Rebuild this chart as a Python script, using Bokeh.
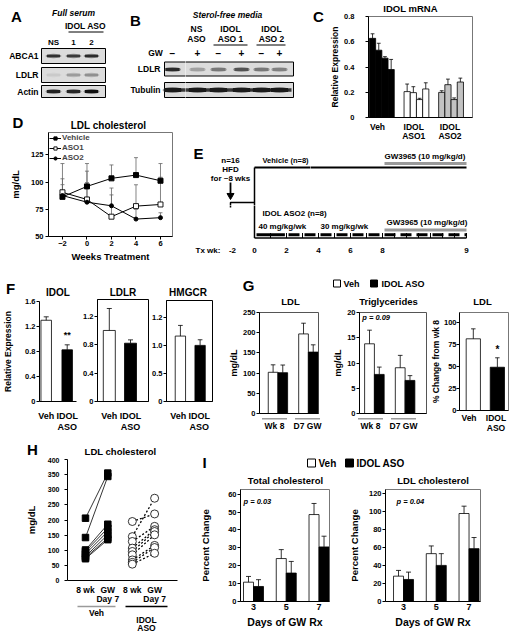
from bokeh.plotting import figure
from bokeh.models import Range1d, FixedTicker, Legend, LegendItem
from bokeh.layouts import row, column
from bokeh.core.properties import value
from bokeh.embed import file_html
from bokeh.resources import INLINE

FONT = "Liberation Sans"

# ====================== DATA ======================
# Panel A (western blot band intensities, 0..1)
a_lanes = ["NS", "1", "2"]
a_abca1 = [0.85, 0.80, 0.88]
a_ldlr = [0.10, 0.32, 0.38]
a_actin = [0.92, 0.90, 1.00]
# Panel B
b_groups = [["NS", "ASO"], ["IDOL", "ASO 1"], ["IDOL", "ASO 2"]]
b_gw = ["\u2212", "+", "\u2212", "+", "\u2212", "+"]
b_ldlr = [0.88, 0.30, 0.50, 0.68, 0.50, 0.46]
b_tubulin = [0.95, 0.95, 0.95, 0.95, 0.95, 0.95]
# Panel C (IDOL mRNA)
c_cats = ["Veh", "IDOL\nASO1", "IDOL\nASO2"]
c_veh = [0.627, 0.533, 0.470, 0.380]
c_veh_err = [0.036, 0.055, 0.012, 0.080]
c_aso1 = [0.205, 0.197, 0.142, 0.226]
c_aso1_err = [0.060, 0.047, 0.010, 0.049]
c_aso2 = [0.199, 0.260, 0.142, 0.281]
c_aso2_err = [0.013, 0.044, 0.013, 0.031]
# Panel D (LDL cholesterol time course)
d_weeks = [-2, 0, 2, 4, 6]
d_vehicle = [86.4, 96.0, 103.4, 106.4, 101.2]
d_vehicle_err = [30.6, 21.0, 12.3, 16.0, 15.8]
d_aso1 = [90.6, 84.0, 68.2, 77.9, 79.4]
d_aso1_err = [12.4, 26.0, 26.3, 19.6, 25.0]
d_aso2 = [87.6, 81.5, 78.2, 66.0, 67.3]
d_aso2_err = [10.0, 18.0, 10.0, 9.0, 4.5]
# Panel E (timeline)
e_tick_labels = ["-2", "0", "2", "4", "6", "8", "9"]
e_tick_pos = [-1.375, 0, 2, 4, 6, 8, 13.25]
e_week_marks = [0, 1, 2, 3, 4, 5, 6, 7, 8]
e_day_marks = [8.75, 9.5, 10.25, 11.0, 11.75, 12.5, 13.25]
# Panel F
f_cats = ["Veh", "IDOL\nASO"]
f_idol = [1.30, 0.827]
f_idol_err = [0.055, 0.080]
f_ldlr = [1.003, 0.823]
f_ldlr_err = [0.31, 0.047]
f_hmgcr = [1.166, 1.00]
f_hmgcr_err = [0.19, 0.10]
# Panel G
g_groups = ["Wk 8", "D7 GW"]
g_ldl_veh = [102, 197]
g_ldl_veh_err = [18.5, 26.5]
g_ldl_aso = [101, 152]
g_ldl_aso_err = [19, 18]
g_tg_veh = [13.8, 9.06]
g_tg_veh_err = [2.7, 2.45]
g_tg_aso = [7.74, 6.55]
g_tg_aso_err = [1.45, 0.95]
g_pct_cats = ["Veh", "IDOL\nASO"]
g_pct = [81.2, 49.0]
g_pct_err = [11.3, 10.7]
# Panel H
h_cats = ["8 wk", "GW\nDay 7", "8 wk", "GW\nDay 7"]
h_pos = [0, 1, 2.1, 3.1]
h_veh_wk8 = [206, 142, 101, 96, 88, 80, 76, 72]
h_veh_gw = [355, 344, 186, 173, 162, 151, 140, 135]
h_aso_wk8 = [195, 145, 129, 107, 96, 85, 68, 60, 54]
h_aso_gw = [220, 272, 179, 168, 162, 151, 116, 109, 90]
# Panel I
i_days = ["3", "5", "7"]
i_tc_veh = [10.8, 24.0, 48.6]
i_tc_veh_err = [3.2, 5.0, 6.2]
i_tc_aso = [8.4, 15.9, 30.5]
i_tc_aso_err = [3.8, 6.5, 6.0]
i_ldl_veh = [28.3, 53.4, 98.2]
i_ldl_veh_err = [6.4, 8.6, 8.2]
i_ldl_aso = [24.6, 40.3, 59.0]
i_ldl_aso_err = [8.2, 13.1, 12.4]


# ====================== HELPERS ======================
class Geo:
    def __init__(self, fx, fy, w, h, bl=0, br=0, bt=0, bb=0):
        self.fx, self.fy, self.w, self.h = fx, fy, w, h
        self.bl, self.br, self.bt, self.bb = bl, br, bt, bb
        self.fl = fx + bl
        self.fb = fy + h - bb
        self.fw = w - bl - br
        self.fh = h - bt - bb


def mk(g, xr, yr, axes=True):
    p = figure(width=g.w, height=g.h, x_range=Range1d(*xr), y_range=Range1d(*yr),
               output_backend="svg", toolbar_location=None, tools="", title=None,
               min_border_left=g.bl, min_border_right=g.br,
               min_border_top=g.bt, min_border_bottom=g.bb,
               x_axis_location="below" if axes else None,
               y_axis_location="left" if axes else None)
    try:
        p.frame_align = False
    except Exception:
        pass
    p.xgrid.visible = False
    p.ygrid.visible = False
    p.background_fill_color = "white"
    p.border_fill_color = "white"
    p.outline_line_color = None
    return p


def strip(g, data_xr=None):
    """Text/decoration strip: frame fills the figure, x/y in page pixels."""
    p = mk(g, (g.fx, g.fx + g.w), (g.fy + g.h, g.fy), axes=False)
    if data_xr is not None:
        p.extra_x_ranges = {"d": Range1d(*data_xr)}
    return p


def ext(g, xr):
    ppu = g.fw / (xr[1] - xr[0])
    return (xr[0] - g.bl / ppu, xr[1] + g.br / ppu)


def to_dx(g, xr, X):
    return xr[0] + (X - g.fl) * (xr[1] - xr[0]) / g.fw


def to_dy(g, yr, Y):
    return yr[0] + (g.fb - Y) * (yr[1] - yr[0]) / g.fh


def style_ax(ax, size=7.5, tick_out=3, standoff=2, ticks=True):
    ax.axis_line_color = "black"
    ax.axis_line_width = 1
    ax.minor_tick_line_color = None
    if ticks:
        ax.major_tick_line_color = "black"
        ax.major_tick_out = tick_out
        ax.major_tick_in = 0
    else:
        ax.major_tick_line_color = None
        ax.major_tick_out = 0
        ax.major_tick_in = 0
    ax.major_label_text_font = FONT
    ax.major_label_text_font_size = f"{size}px"
    ax.major_label_text_font_style = "bold"
    ax.major_label_text_color = "black"
    ax.major_label_standoff = standoff
    ax.axis_label_text_font = FONT
    ax.axis_label_text_font_style = "bold"
    ax.axis_label_text_color = "black"


def bare_x(ax):
    style_ax(ax, 7, 0, 0, ticks=False)
    ax.ticker = FixedTicker(ticks=[])


def txt(p, xs, ys, texts, size, style="bold", align="center", baseline="middle",
        xr_name=None, bounds=None):
    if bounds is not None:
        x0, x1, y0, y1 = bounds
        keep = [i for i in range(len(xs)) if x0 <= xs[i] < x1 and y0 <= ys[i] < y1]
        if not keep:
            return
        xs = [xs[i] for i in keep]
        ys = [ys[i] for i in keep]
        texts = [texts[i] for i in keep]
    kw = {} if xr_name is None else {"x_range_name": xr_name}
    p.text(x=xs, y=ys, text=texts, text_font=value(FONT), text_font_size=value(f"{size}px"),
           text_font_style=value(style), text_align=value(align),
           text_baseline=value(baseline), text_color="black", **kw)


def cat_text(p, xs, labels, y0, size, dy):
    for x, lb in zip(xs, labels):
        for k, line in enumerate(lb.split("\n")):
            txt(p, [x], [y0 + k * dy], [line], size, xr_name="d")


def bars(p, xs, tops, errs, width, fill, cap):
    p.vbar(x=xs, top=tops, bottom=0, width=width, fill_color=fill,
           line_color="black", line_width=0.8)
    ups = [t + e for t, e in zip(tops, errs)]
    p.segment(x0=xs, y0=tops, x1=xs, y1=ups, line_color="black", line_width=0.8)
    p.segment(x0=[x - cap for x in xs], y0=ups, x1=[x + cap for x in xs], y1=ups,
              line_color="black", line_width=0.8)


def gray(v):
    c = int(round(222 - 205 * v))
    return "#%02x%02x%02x" % (c, c, c)


def blot_box(p, x0, x1, y0, y1):
    p.quad(left=[x0], right=[x1], top=[y0], bottom=[y1], fill_color="#dcdcdc",
           line_color="black", line_width=1)


def bands(p, xs, y, inten, w, h):
    cols = [gray(v) for v in inten]
    n = len(xs)
    p.ellipse(x=xs, y=[y] * n, width=w + 3, height=h + 2, fill_color=cols,
              fill_alpha=0.45, line_color=None)
    p.rect(x=xs, y=[y] * n, width=w, height=h, fill_color=cols, line_color=None)


def sq(p, x0, x1, y0, y1, fill):
    p.quad(left=[x0], right=[x1], top=[y0], bottom=[y1], fill_color=fill,
           line_color="black", line_width=1)


# ====================== A + B (blots) + D heading ======================
def draw_AB(p, b):
    # --- A
    txt(p, [16], [16], ["A"], 15, bounds=b)
    txt(p, [73], [12.5], ["Full serum"], 8.5, style="bold italic", bounds=b)
    txt(p, [85], [25.5], ["IDOL ASO"], 8.5, bounds=b)
    p.line([68, 103], [31.5, 31.5], line_color="black", line_width=1)
    a_x = [53, 73, 91]
    txt(p, a_x, [41.5] * 3, a_lanes, 8, bounds=b)
    blot_box(p, 41, 105, 48, 63)
    blot_box(p, 41, 105, 67, 82)
    blot_box(p, 41, 105, 85, 97)
    txt(p, [38, 38, 38], [55.5, 74.5, 91], ["ABCA1", "LDLR", "Actin"], 8.5, align="right",
        bounds=b)
    bands(p, a_x, 55.5, a_abca1, 13, 2.5)
    bands(p, a_x, 74.5, a_ldlr, 13, 2.5)
    bands(p, a_x, 91, a_actin, 13, 3)
    # --- B
    txt(p, [135], [20], ["B"], 15, bounds=b)
    txt(p, [227], [14], ["Sterol-free media"], 8.5, style="bold italic", bounds=b)
    b_hx = [196, 230, 271]
    txt(p, b_hx, [28.3] * 3, [g[0] for g in b_groups], 8.5, bounds=b)
    txt(p, b_hx, [38.5] * 3, [g[1] for g in b_groups], 8.5, bounds=b)
    p.line([213, 247], [44.5, 44.5], line_color="black", line_width=1)
    p.line([256, 285], [44.5, 44.5], line_color="black", line_width=1)
    b_x = [172, 197, 218, 241, 261, 279]
    txt(p, b_x, [52.5] * 6, b_gw, 10, bounds=b)
    txt(p, [155], [52.5], ["GW"], 8.5, bounds=b)
    blot_box(p, 164, 293, 61.5, 75.5)
    blot_box(p, 164, 293, 82, 97)
    txt(p, [160, 160], [68.5, 89.5], ["LDLR", "Tubulin"], 8.5, align="right", bounds=b)
    bands(p, b_x, 69, b_ldlr, 14, 3)
    p.rect(x=[228.5], y=[89.5], width=125, height=3.5, fill_color=gray(0.8), line_color=None)
    bands(p, b_x, 89.5, b_tubulin, 17, 4)
    # --- D heading
    txt(p, [108], [124.5], ["LDL cholesterol"], 10, bounds=b)
    txt(p, [17.5], [122], ["D"], 15, bounds=b)


pABl = strip(Geo(0, 0, 185, 131))
draw_AB(pABl, (0, 185, 0, 131))
pABr = strip(Geo(185, 0, 125, 131))
draw_AB(pABr, (185, 310, 0, 131))

# ====================== C ======================
xrC = (-0.386, 2.62)
gCc = Geo(327, 13, 183, 109, 36, 38, 3, 5)
pCc = mk(gCc, xrC, (0, 0.8))
ppuC = gCc.fw / (xrC[1] - xrC[0])
C_BW = 6.5 / ppuC
for gi, (vals, errs, col) in enumerate([(c_veh, c_veh_err, "black"),
                                        (c_aso1, c_aso1_err, "white"),
                                        (c_aso2, c_aso2_err, "#c2c2c2")]):
    xs = [gi + (i - 1.5) * C_BW for i in range(len(vals))]
    bars(pCc, xs, vals, errs, C_BW, col, 2.0 / ppuC)
pCc.outline_line_color = "#777777"
ya = pCc.yaxis[0]
style_ax(ya, 7.5, 3, 11)
ya.ticker = FixedTicker(ticks=[0, 0.2, 0.4, 0.6, 0.8])
ya.major_label_overrides = {0: "0"}
ya.axis_label = "Relative Expression"
ya.axis_label_text_font_size = "8.5px"
ya.axis_label_standoff = 1
bare_x(pCc.xaxis[0])

pCl = strip(Geo(310, 0, 17, 141))
txt(pCl, [318], [16], ["C"], 15)
pCt = strip(Geo(327, 0, 183, 13))
txt(pCt, [410], [7.5], ["IDOL mRNA"], 9.5)
pCb = strip(Geo(327, 122, 183, 19), ext(gCc, xrC))
cat_text(pCb, [0, 1, 2], c_cats, 126, 8.5, 9.5)

# ====================== D ======================
gD = Geo(0, 131, 185, 133, 48, 13, 1, 27)
xrD = (-3.14, 6.98)
pD = mk(gD, xrD, (50, 145.5))
ppuD = gD.fw / (xrD[1] - xrD[0])
capD = 2.0 / ppuD
for vals, errs in [(d_vehicle, d_vehicle_err), (d_aso1, d_aso1_err), (d_aso2, d_aso2_err)]:
    ups = [v + e for v, e in zip(vals, errs)]
    pD.segment(x0=d_weeks, y0=vals, x1=d_weeks, y1=ups, line_color="#666666", line_width=0.8)
    pD.segment(x0=[w - capD for w in d_weeks], y0=ups, x1=[w + capD for w in d_weeks], y1=ups,
               line_color="#666666", line_width=0.8)
l1 = pD.line(d_weeks, d_vehicle, line_color="black", line_width=1)
l2 = pD.line(d_weeks, d_aso1, line_color="black", line_width=1)
l3 = pD.line(d_weeks, d_aso2, line_color="black", line_width=1)
s1 = pD.scatter(d_weeks, d_vehicle, marker="square", size=5, fill_color="black", line_color="black")
s2 = pD.scatter(d_weeks, d_aso1, marker="square", size=5, fill_color="white", line_color="black",
                line_width=0.9)
s3 = pD.scatter(d_weeks, d_aso2, marker="circle", size=4, fill_color="black", line_color="black")
legD = Legend(items=[LegendItem(label="Vehicle", renderers=[l1, s1]),
                     LegendItem(label="ASO1", renderers=[l2, s2]),
                     LegendItem(label="ASO2", renderers=[l3, s3])],
              location="top_left", label_text_font=FONT, label_text_font_size="8px",
              label_text_font_style="bold", glyph_width=12, glyph_height=8, label_height=8,
              label_standoff=1, spacing=1, padding=0, margin=1, border_line_color=None,
              background_fill_alpha=0)
pD.add_layout(legD)
pD.outline_line_color = "#777777"
xa = pD.xaxis[0]
style_ax(xa, 7.5, 3, 1)
xa.ticker = FixedTicker(ticks=d_weeks)
xa.axis_label = "Weeks Treatment"
xa.axis_label_text_font_size = "9.5px"
xa.axis_label_standoff = 2
ya = pD.yaxis[0]
style_ax(ya, 7.5, 3, 2)
ya.ticker = FixedTicker(ticks=[50, 75, 100, 125])
ya.axis_label = "mg/dL"
ya.axis_label_text_font_size = "9.5px"
ya.axis_label_standoff = 7


# ====================== E (timeline, drawn over three canvases) ======================
def ux(X):
    return (X - 254.0) / 16.0


def draw_E(p, b):
    last = e_tick_pos[-1]
    txt(p, [-3.5], [153], ["E"], 15, bounds=b)
    txt(p, [-1.5] * 3, [160, 169, 178], ["n=16", "HFD", "for ~8 wks"], 8, bounds=b)
    p.segment(x0=[-1.5], y0=[182], x1=[-1.5], y1=[193], line_color="black", line_width=1.8)
    p.scatter(x=[-1.5], y=[195], marker="inverted_triangle", size=7, fill_color="black",
              line_color="black")
    p.line([-1.5, -1.5, 0], [207, 202, 202], line_color="black", line_width=1.5)
    p.line([0, 0], [167, 237.5], line_color="black", line_width=1.5)
    p.line([0, last], [167, 167], line_color="black", line_width=2)
    p.line([8.125, last], [163, 163], line_color="#9a9a9a", line_width=3)
    p.line([8.125, last], [229.5, 229.5], line_color="#9a9a9a", line_width=3)
    p.line([0.125, 1.9], [234.3, 234.3], line_color="black", line_width=3)
    p.line([2.125, last], [234.3, 234.3], line_color="black", line_width=3, line_dash="11 5")
    p.line([0, last], [237.5, 237.5], line_color="black", line_width=1.5)
    marks = e_week_marks + e_day_marks
    p.segment(x0=marks, y0=[237.5] * len(marks), x1=marks, y1=[232.5] * len(marks),
              line_color="black", line_width=1)
    txt(p, e_tick_pos, [250] * len(e_tick_pos), e_tick_labels, 8, bounds=b)
    txt(p, [ux(195)], [250], ["Tx wk:"], 8, align="left", bounds=b)
    txt(p, [0.5], [160], ["Vehicle (n=8)"], 7.5, align="left", bounds=b)
    txt(p, [8.125], [156], ["GW3965 (10 mg/kg/d)"], 8, align="left", bounds=b)
    txt(p, [0.5], [213], ["IDOL ASO2 (n=8)"], 8, align="left", bounds=b)
    txt(p, [0.25, 4.125], [226, 226], ["40 mg/kg/wk", "30 mg/kg/wk"], 8, align="left",
        bounds=b)
    txt(p, [8.25], [222], ["GW3965 (10 mg/kg/d)"], 8, align="left", bounds=b)


pEul = mk(Geo(185, 131, 125, 74), (ux(185), ux(310)), (205, 131), axes=False)
draw_E(pEul, (ux(185), ux(310), 131, 205))
pEur = mk(Geo(310, 141, 200, 64), (ux(310), ux(510)), (205, 141), axes=False)
draw_E(pEur, (ux(310), ux(510), 141, 205))
pEb = mk(Geo(185, 205, 325, 59), (ux(185), ux(510)), (264, 205), axes=False)
draw_E(pEb, (ux(185), ux(510), 205, 264))


# ====================== F ======================
def fpanel(gt, gc, gb, xr, yr, vals, errs, bw_px, yticks, yover, title, outline):
    p = mk(gc, xr, yr)
    ppu = gc.fw / (xr[1] - xr[0])
    bars(p, [0, 1], vals, errs, bw_px / ppu, ["white", "black"], 2.5 / ppu)
    p.outline_line_color = outline
    ya = p.yaxis[0]
    style_ax(ya, 7.5, 3, 1)
    ya.ticker = FixedTicker(ticks=yticks)
    ya.major_label_overrides = yover
    bare_x(p.xaxis[0])
    pt = strip(gt, ext(gc, xr))
    txt(pt, [(xr[0] + xr[1]) / 2], [291.5], [title], 10, xr_name="d")
    pb = strip(gb, ext(gc, xr))
    cat_text(pb, [0, 1], f_cats, 415.5, 9, 10.5)
    return pt, p, pb


xrF1, yrF1 = (-0.32, 1.443), (0, 1.6)
gF1c = Geo(0, 298, 80, 107, 39, 4, 3, 4)
pF1t, pF1, pF1b = fpanel(Geo(0, 264, 80, 34), gF1c, Geo(0, 405, 80, 27), xrF1, yrF1,
                         f_idol, f_idol_err, 10.5, [0, 0.4, 0.8, 1.2, 1.6], {0: "0"}, "IDOL", None)
pF1.yaxis[0].axis_label = "Relative Expression"
pF1.yaxis[0].axis_label_text_font_size = "8.5px"
pF1.yaxis[0].axis_label_standoff = 9
txt(pF1, [1], [to_dy(gF1c, yrF1, 334)], ["**"], 9)
txt(pF1t, [10], [287.5], ["F"], 15)

pF2t, pF2, pF2b = fpanel(Geo(80, 264, 69, 35), Geo(80, 299, 69, 106, 17, 1, 0, 4),
                         Geo(80, 405, 69, 27), (-0.557, 1.849), (0, 1.44),
                         f_ldlr, f_ldlr_err, 12, [0, 0.4, 0.8, 1.2], {0: "0"}, "LDLR", "black")

pF3t, pF3, pF3b = fpanel(Geo(149, 264, 76, 36), Geo(149, 300, 76, 105, 14, 13, 0, 4),
                         Geo(149, 405, 76, 27), (-0.705, 1.629), (0, 1.8),
                         f_hmgcr, f_hmgcr_err, 11, [0, 0.5, 1.0, 1.5],
                         {0: "0", 0.5: "0.5", 1: "1.0", 1.5: "1.2"}, "HMGCR", "black")


# ====================== G ======================
def gpanel(gt, gc, gb, xr, yr, veh, veh_err, aso, aso_err, yticks, title, tx):
    p = mk(gc, xr, yr)
    ppu = gc.fw / (xr[1] - xr[0])
    bw = 10.5 / ppu
    bars(p, [i - bw / 2 for i in range(len(veh))], veh, veh_err, bw, "white", 2.5 / ppu)
    bars(p, [i + bw / 2 for i in range(len(aso))], aso, aso_err, bw, "black", 2.5 / ppu)
    p.outline_line_color = "#555555"
    ya = p.yaxis[0]
    style_ax(ya, 7.5, 3, 1)
    ya.ticker = FixedTicker(ticks=yticks)
    ya.axis_label = "mg/dL"
    ya.axis_label_text_font_size = "9px"
    ya.axis_label_standoff = 1
    bare_x(p.xaxis[0])
    pt = strip(gt, ext(gc, xr))
    txt(pt, [tx], [300.8], [title], 9.5)
    pb = strip(gb, ext(gc, xr))
    for i in range(len(veh)):
        pb.line([i - 12.5 / ppu, i + 12.5 / ppu], [418.3, 418.3], line_color="#9a9a9a",
                line_width=1.5, x_range_name="d")
    cat_text(pb, list(range(len(g_groups))), g_groups, 425.8, 8.5, 10)
    return pt, p, pb


gG1c = Geo(225, 307, 105, 110, 29, 12, 5, 4)
pG1t, pG1, pG1b = gpanel(Geo(225, 264, 105, 43), gG1c, Geo(225, 417, 105, 15),
                         (-0.606, 1.333), (0, 250), g_ldl_veh, g_ldl_veh_err,
                         g_ldl_aso, g_ldl_aso_err, [0, 50, 100, 150, 200, 250], "LDL", 290)
txt(pG1t, [248], [285], ["G"], 15)

xrG2, yrG2 = (-0.485, 1.697), (0, 20)
gG2c = Geo(330, 307, 97, 110, 24, 1, 5, 4)
pG2t, pG2, pG2b = gpanel(Geo(330, 264, 97, 43), gG2c, Geo(330, 417, 97, 15),
                         xrG2, yrG2, g_tg_veh, g_tg_veh_err, g_tg_aso, g_tg_aso_err,
                         [0, 5, 10, 15, 20], "Triglycerides", 388)
txt(pG2, [to_dx(gG2c, xrG2, 357)], [to_dy(gG2c, yrG2, 317.3)], ["p = 0.09"], 7.5,
    style="bold italic", align="left")
sq(pG2t, 333, 340, 279.5, 286.5, "white")
txt(pG2t, [343], [283], ["Veh"], 9, align="left")
sq(pG2t, 370, 377, 279.5, 286.5, "black")
txt(pG2t, [381], [283], ["IDOL ASO"], 9, align="left")

xrG3, yrG3 = (-0.574, 1.463), (0, 111)
gG3c = Geo(427, 307, 83, 107, 26, 2, 5, 4)
pG3 = mk(gG3c, xrG3, yrG3)
ppuG3 = gG3c.fw / (xrG3[1] - xrG3[0])
bars(pG3, [0, 1], g_pct, g_pct_err, 16 / ppuG3, ["white", "black"], 2.5 / ppuG3)
pG3.outline_line_color = "#777777"
ya = pG3.yaxis[0]
style_ax(ya, 7.5, 3, 0)
ya.ticker = FixedTicker(ticks=[0, 25, 50, 75, 100])
ya.axis_label = "% Change from wk 8"
ya.axis_label_text_font_size = "8.5px"
ya.axis_label_standoff = 0
bare_x(pG3.xaxis[0])
txt(pG3, [1], [to_dy(gG3c, yrG3, 349)], ["*"], 10)
pG3t = strip(Geo(427, 264, 83, 43))
txt(pG3t, [482], [300.8], ["LDL"], 9.5)
pG3b = strip(Geo(427, 414, 83, 18), ext(gG3c, xrG3))
cat_text(pG3b, [0, 1], g_pct_cats, 417.8, 8.5, 9.2)

# ====================== H ======================
xrH, yrH = (-0.807, 4.126), (0, 400)
gHc = Geo(0, 457, 195, 127, 67, 18, 2, 4)
pH = mk(gHc, xrH, yrH)
nv = len(h_veh_wk8)
na = len(h_aso_wk8)
pH.segment(x0=[h_pos[0]] * nv, y0=h_veh_wk8, x1=[h_pos[1]] * nv, y1=h_veh_gw,
           line_color="black", line_width=0.8)
pH.segment(x0=[h_pos[2]] * na, y0=h_aso_wk8, x1=[h_pos[3]] * na, y1=h_aso_gw,
           line_color="black", line_width=1.3, line_dash="2 2")
pH.scatter(x=[h_pos[0]] * nv + [h_pos[1]] * nv, y=h_veh_wk8 + h_veh_gw, marker="square",
           size=6.5, fill_color="black", line_color="black")
pH.scatter(x=[h_pos[2]] * na + [h_pos[3]] * na, y=h_aso_wk8 + h_aso_gw, marker="circle",
           size=8, fill_color="white", line_color="black", line_width=0.8)
ya = pH.yaxis[0]
style_ax(ya, 7, 3, 5)
ya.ticker = FixedTicker(ticks=[0, 50, 100, 150, 200, 250, 300, 350, 400])
ya.axis_label = "mg/dL"
ya.axis_label_text_font_size = "9.5px"
ya.axis_label_standoff = 8
bare_x(pH.xaxis[0])
pHt = strip(Geo(0, 432, 195, 25))
txt(pHt, [120], [451], ["LDL cholesterol"], 9.5)
txt(pHt, [32], [448.5], ["H"], 15)
pHb = strip(Geo(0, 584, 195, 48), ext(gHc, xrH))
cat_text(pHb, h_pos, h_cats, 589, 8.5, 9)
pHb.line([77, 115], [606, 606], line_color="#9a9a9a", line_width=1.5)
pHb.line([125, 167], [606, 606], line_color="black", line_width=1.5)
txt(pHb, [96], [612.5], ["Veh"], 8.5)
txt(pHb, [146, 146], [619, 627], ["IDOL", "ASO"], 8.5)


# ====================== I ======================
def ipanel(gc, xr, yr, veh, veh_err, aso, aso_err, yticks, ptxt, px, als):
    p = mk(gc, xr, yr)
    ppu = gc.fw / (xr[1] - xr[0])
    bw = 10.0 / ppu
    bars(p, [i - bw / 2 for i in range(len(veh))], veh, veh_err, bw, "white", 2.5 / ppu)
    bars(p, [i + bw / 2 for i in range(len(aso))], aso, aso_err, bw, "black", 2.5 / ppu)
    p.outline_line_color = "#777777"
    ya = p.yaxis[0]
    style_ax(ya, 7.5, 3, 1)
    ya.ticker = FixedTicker(ticks=yticks)
    ya.axis_label = "Percent Change"
    ya.axis_label_text_font_size = "9.5px"
    ya.axis_label_standoff = als
    xa = p.xaxis[0]
    style_ax(xa, 9, 0, 2, ticks=False)
    xa.ticker = FixedTicker(ticks=[0, 1, 2])
    xa.major_label_overrides = {i: d for i, d in enumerate(i_days)}
    xa.axis_label = "Days of GW Rx"
    xa.axis_label_text_font_size = "10.5px"
    xa.axis_label_standoff = 3
    txt(p, [to_dx(gc, xr, px)], [to_dy(gc, yr, 500.7)], [ptxt], 7.5, style="bold italic",
        align="left")
    return p


gI1c = Geo(195, 486, 147, 146, 45, 13, 3, 31)
pI1 = ipanel(gI1c, (-0.397, 2.32), (0, 62.6), i_tc_veh, i_tc_veh_err, i_tc_aso, i_tc_aso_err,
             [0, 10, 20, 30, 40, 50, 60], "p = 0.03", 243, 14)
pI1t = strip(Geo(195, 432, 147, 54))
txt(pI1t, [204], [462], ["I"], 15)
sq(pI1t, 307, 315, 458.5, 466.5, "white")
txt(pI1t, [318], [462.7], ["Veh"], 10, align="left")
txt(pI1t, [285], [480], ["Total cholesterol"], 9.5)

gI2c = Geo(342, 486, 168, 146, 43, 30, 3, 31)
pI2 = ipanel(gI2c, (-0.55, 2.35), (0, 125), i_ldl_veh, i_ldl_veh_err, i_ldl_aso, i_ldl_aso_err,
             [0, 20, 40, 60, 80, 100, 120], "p = 0.04", 396, 6)
pI2t = strip(Geo(342, 432, 168, 54))
sq(pI2t, 345, 353, 458.5, 466.5, "black")
txt(pI2t, [356], [462.7], ["IDOL ASO"], 10, align="left")
txt(pI2t, [432.7], [480], ["LDL cholesterol"], 9.5)

# ====================== LAYOUT ======================
colA = column(pABl, pD)
colB1 = column(pABr, pEul)
colB2 = column(row(pCl, column(pCt, pCc, pCb)), pEur)
colB = column(row(colB1, colB2), pEb)
top = row(colA, colB)
mid = row(column(pF1t, pF1, pF1b), column(pF2t, pF2, pF2b), column(pF3t, pF3, pF3b),
          column(pG1t, pG1, pG1b), column(pG2t, pG2, pG2b), column(pG3t, pG3, pG3b))
bot = row(column(pHt, pH, pHb), column(pI1t, pI1), column(pI2t, pI2))
layout = column(top, mid, bot)

open("out.html", "w").write(file_html(layout, INLINE))
